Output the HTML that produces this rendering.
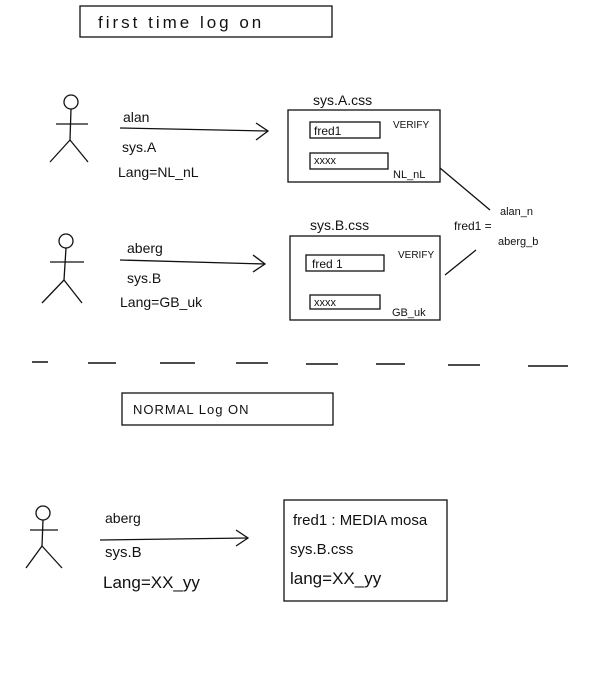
<!DOCTYPE html>
<html><head><style>body{margin:0;background:#fff}svg{display:block}text{font-family:"Liberation Sans",sans-serif;fill:#111}</style></head>
<body>
<svg width="609" height="676" viewBox="0 0 609 676" xmlns="http://www.w3.org/2000/svg" stroke="#111" fill="none" stroke-width="1.3">
<!-- title box -->
<rect x="80" y="6" width="252" height="31"/>
<text x="98" y="28" font-size="17" stroke="none" letter-spacing="3">first  time  log  on</text>

<!-- figure 1 -->
<circle cx="71" cy="102" r="7"/>
<line x1="71" y1="109" x2="70" y2="140"/>
<line x1="56" y1="124" x2="88" y2="124"/>
<line x1="70" y1="140" x2="50" y2="162"/><line x1="70" y1="140" x2="88" y2="162"/>
<text x="123" y="122" font-size="14" stroke="none">alan</text>
<line x1="120" y1="128" x2="268" y2="131"/><polyline points="256,123 268,131 256,140"/>
<text x="122" y="152" font-size="14" stroke="none">sys.A</text>
<text x="118" y="177" font-size="14" stroke="none">Lang=NL_nL</text>

<text x="313" y="105" font-size="14" stroke="none">sys.A.css</text>
<rect x="288" y="110" width="152" height="72"/>
<rect x="310" y="122" width="70" height="16"/>
<text x="314" y="135" font-size="12" stroke="none">fred1</text>
<text x="393" y="128" font-size="10" stroke="none">VERIFY</text>
<rect x="310" y="153" width="78" height="16"/>
<text x="314" y="164" font-size="11" stroke="none">xxxx</text>
<text x="393" y="178" font-size="11" stroke="none">NL_nL</text>

<line x1="440" y1="168" x2="490" y2="210"/>
<line x1="445" y1="275" x2="476" y2="250"/>
<text x="454" y="230" font-size="12" stroke="none">fred1 =</text>
<text x="500" y="215" font-size="11" stroke="none">alan_n</text>
<text x="498" y="245" font-size="11" stroke="none">aberg_b</text>

<!-- figure 2 -->
<circle cx="66" cy="241" r="7"/>
<line x1="66" y1="248" x2="64" y2="280"/>
<line x1="50" y1="262" x2="84" y2="262"/>
<line x1="64" y1="280" x2="42" y2="303"/><line x1="64" y1="280" x2="82" y2="303"/>
<text x="127" y="253" font-size="14" stroke="none">aberg</text>
<line x1="120" y1="260" x2="265" y2="264"/><polyline points="253,255 265,264 253,272"/>
<text x="127" y="283" font-size="14" stroke="none">sys.B</text>
<text x="120" y="307" font-size="14" stroke="none">Lang=GB_uk</text>

<text x="310" y="230" font-size="14" stroke="none">sys.B.css</text>
<rect x="290" y="236" width="150" height="84"/>
<rect x="306" y="255" width="78" height="16"/>
<text x="312" y="268" font-size="12" stroke="none">fred 1</text>
<text x="398" y="258" font-size="10" stroke="none">VERIFY</text>
<rect x="310" y="295" width="70" height="14"/>
<text x="314" y="306" font-size="11" stroke="none">xxxx</text>
<text x="392" y="316" font-size="11" stroke="none">GB_uk</text>

<!-- dashes -->
<g stroke-width="1.5">
<line x1="32" y1="362" x2="48" y2="362"/><line x1="88" y1="363" x2="116" y2="363"/>
<line x1="160" y1="363" x2="195" y2="363"/><line x1="236" y1="363" x2="268" y2="363"/>
<line x1="306" y1="364" x2="338" y2="364"/><line x1="376" y1="364" x2="405" y2="364"/>
<line x1="448" y1="365" x2="480" y2="365"/><line x1="528" y1="366" x2="568" y2="366"/>
</g>

<rect x="122" y="393" width="211" height="32"/>
<text x="133" y="414" font-size="13" stroke="none" letter-spacing="1">NORMAL   Log  ON</text>

<!-- figure 3 -->
<circle cx="43" cy="513" r="7"/>
<line x1="43" y1="520" x2="42" y2="546"/>
<line x1="30" y1="530" x2="58" y2="530"/>
<line x1="42" y1="546" x2="26" y2="568"/><line x1="42" y1="546" x2="62" y2="568"/>
<text x="105" y="523" font-size="14" stroke="none">aberg</text>
<line x1="100" y1="540" x2="248" y2="538"/><polyline points="236,530 248,538 236,546"/>
<text x="105" y="557" font-size="15" stroke="none">sys.B</text>
<text x="103" y="588" font-size="17" stroke="none">Lang=XX_yy</text>

<rect x="284" y="500" width="163" height="101"/>
<text x="293" y="525" font-size="15" stroke="none">fred1 : MEDIA mosa</text>
<text x="290" y="554" font-size="15" stroke="none">sys.B.css</text>
<text x="290" y="584" font-size="17" stroke="none">lang=XX_yy</text>
</svg>
</body></html>
